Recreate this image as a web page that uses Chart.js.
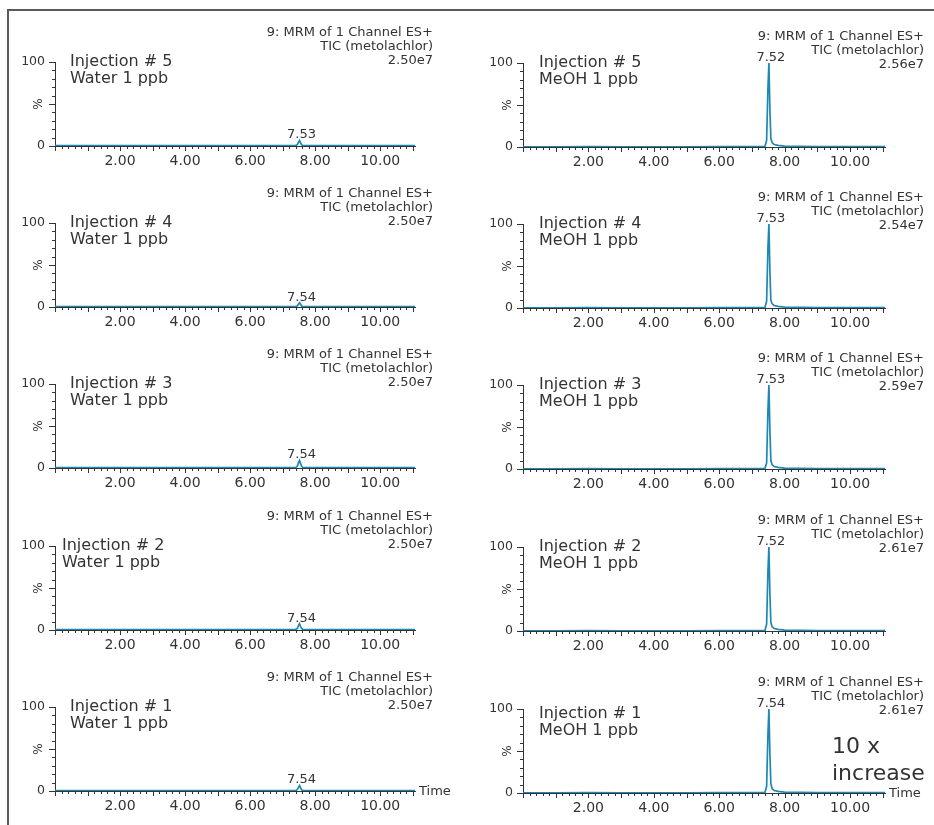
<!DOCTYPE html>
<html>
<head>
<meta charset="utf-8">
<script src="https://cdn.jsdelivr.net/npm/chart.js@4.4.0/dist/chart.umd.min.js"></script>
<style>
  body { margin: 0; background: #fff; width: 934px; height: 825px; overflow: hidden; position: relative; }
  #frame { position: absolute; left: 7px; top: 9px; width: 940px; height: 830px;
           border-top: 2px solid #5a5a5a; border-left: 2px solid #5a5a5a; }
  canvas.panel { position: absolute; }
</style>
</head>
<body>
<div id="frame"></div>
<script>
// Retention time points (min), shared by every trace
const times = [0.00, 1.00, 2.00, 3.00, 4.00, 5.00, 6.00, 7.00, 7.40, 7.45, 7.49, 7.52, 7.55, 7.58, 7.62, 7.68, 7.80, 8.00, 9.00, 10.00, 11.07];

// Water 1 ppb, % of full scale (injection 5 .. 1, top to bottom)
const water5 = [0.4, 0.4, 0.4, 0.4, 0.4, 0.4, 0.4, 0.4, 0.5, 1.5, 4.5, 6.5, 4.0, 1.5, 0.8, 0.5, 0.4, 0.4, 0.4, 0.4, 0.4];
const water4 = [0.4, 0.4, 0.4, 0.4, 0.4, 0.4, 0.4, 0.4, 0.5, 1.2, 3.5, 5.0, 3.2, 1.2, 0.7, 0.5, 0.4, 0.4, 0.4, 0.4, 0.4];
const water3 = [0.4, 0.4, 0.4, 0.4, 0.4, 0.4, 0.4, 0.4, 0.5, 2.0, 6.5, 9.0, 5.5, 2.0, 0.9, 0.5, 0.4, 0.4, 0.4, 0.4, 0.4];
const water2 = [0.4, 0.4, 0.4, 0.4, 0.4, 0.4, 0.4, 0.4, 0.5, 1.8, 5.5, 7.5, 4.5, 1.8, 0.8, 0.5, 0.4, 0.4, 0.4, 0.4, 0.4];
const water1 = [0.4, 0.4, 0.4, 0.4, 0.4, 0.4, 0.4, 0.4, 0.5, 1.5, 4.5, 6.5, 4.0, 1.5, 0.8, 0.5, 0.4, 0.4, 0.4, 0.4, 0.4];

// MeOH 1 ppb, % of full scale
const meoh5 = [0.3, 0.3, 0.4, 0.3, 0.3, 0.3, 0.4, 0.5, 0.8, 8, 70, 100, 45, 10, 5, 3, 2, 1, 0.5, 0.4, 0.4];
const meoh4 = [0.3, 0.3, 0.4, 0.3, 0.3, 0.3, 0.4, 0.5, 0.8, 8, 72, 100, 44, 9, 5, 3, 2, 1, 0.5, 0.4, 0.4];
const meoh3 = [0.3, 0.3, 0.4, 0.3, 0.3, 0.3, 0.4, 0.5, 0.8, 7, 70, 100, 46, 10, 5, 3, 2, 1, 0.5, 0.4, 0.4];
const meoh2 = [0.3, 0.3, 0.4, 0.3, 0.3, 0.3, 0.4, 0.5, 0.8, 8, 71, 100, 45, 10, 5, 3, 2, 1, 0.5, 0.4, 0.4];
const meoh1 = [0.3, 0.3, 0.4, 0.3, 0.3, 0.3, 0.4, 0.5, 0.8, 8, 70, 100, 47, 11, 5, 3, 2, 1, 0.5, 0.4, 0.4];

const waterSeries = [water5, water4, water3, water2, water1];
const meohSeries = [meoh5, meoh4, meoh3, meoh2, meoh1];

const injections = ['Injection # 5', 'Injection # 4', 'Injection # 3', 'Injection # 2', 'Injection # 1'];
const waterPeaks = ['7.53', '7.54', '7.54', '7.54', '7.54'];
const meohPeaks = ['7.52', '7.53', '7.53', '7.52', '7.54'];
const waterScale = ['2.50e7', '2.50e7', '2.50e7', '2.50e7', '2.50e7'];
const meohScale = ['2.56e7', '2.54e7', '2.59e7', '2.61e7', '2.61e7'];
const xLabels = [2, 4, 6, 8, 10];

const FONT = '"DejaVu Sans", Verdana, sans-serif';
const INK = '#333';
const TRACE = '#1e88b4';

// zero line (page y) for each row
const zeroLeft = [146, 307, 468, 630, 791];
const zeroRight = [147, 308, 469, 631, 793];

// ticks, header, labels drawn with the chart's own scales
const decor = {
    id: 'decor',
    afterDatasetsDraw(chart) {
        const o = chart.options.plugins.decor;
        const ctx = chart.ctx;
        const xs = chart.scales.x, ys = chart.scales.y;
        const a = chart.chartArea;
        ctx.save();
        ctx.strokeStyle = INK;
        ctx.lineWidth = 1;
        ctx.beginPath();
        for (let i = 0; i * 0.2 <= xs.max; i++) {
            const px = Math.round(xs.getPixelForValue(i * 0.2)) + 0.5;
            const len = i % 5 === 0 ? 5 : 3;
            ctx.moveTo(px, a.bottom);
            ctx.lineTo(px, a.bottom + len);
        }
        for (let v = 0; v <= 100; v += 10) {
            const py = Math.round(ys.getPixelForValue(v)) + 0.5;
            const len = v % 50 === 0 ? 6 : 3;
            ctx.moveTo(a.left, py);
            ctx.lineTo(a.left - len, py);
        }
        ctx.stroke();

        ctx.fillStyle = INK;
        // % axis mark
        ctx.save();
        ctx.translate(o.pctX, ys.getPixelForValue(50));
        ctx.rotate(-Math.PI / 2);
        ctx.font = '12px ' + FONT;
        ctx.textAlign = 'center';
        ctx.textBaseline = 'middle';
        ctx.fillText('%', 0, 0);
        ctx.restore();

        // peak label above apex
        const data = chart.data.datasets[0].data;
        let k = 0;
        data.forEach((d, i) => { if (d.y > data[k].y) k = i; });
        ctx.font = '13px ' + FONT;
        ctx.textAlign = 'center';
        ctx.textBaseline = 'bottom';
        ctx.fillText(o.peak, xs.getPixelForValue(data[k].x) + 2, ys.getPixelForValue(data[k].y) + 1);

        // header (right aligned)
        ctx.textAlign = 'right';
        ctx.textBaseline = 'middle';
        ctx.fillText('9: MRM of 1 Channel ES+', o.headX, o.headY);
        ctx.fillText('TIC (metolachlor)', o.headX, o.headY + 14);
        ctx.fillText(o.scale, o.headX, o.headY + 28);

        // sample text
        ctx.font = '16px ' + FONT;
        ctx.textAlign = 'left';
        ctx.textBaseline = 'alphabetic';
        ctx.fillText(o.inj, o.injX, o.injY);
        ctx.fillText(o.sample, o.injX, o.injY + 17);

        if (o.last) {
            ctx.font = '13px ' + FONT;
            ctx.textBaseline = 'middle';
            ctx.fillText('Time', a.right + 4, a.bottom + 1);
            if (o.increase) {
                ctx.font = '22px ' + FONT;
                ctx.textBaseline = 'alphabetic';
                ctx.fillText('10 x', 365, 110);
                ctx.fillText('increase', 365, 137);
            }
        }
        ctx.restore();
    }
};

function makePanel(col, row) {
    const isLeft = col === 0;
    const cv = document.createElement('canvas');
    cv.className = 'panel';
    cv.width = 467;
    cv.height = 178;
    const zero = isLeft ? zeroLeft[row] : zeroRight[row];
    cv.style.left = (isLeft ? 0 : 467) + 'px';
    cv.style.top = (zero - 150) + 'px';
    document.body.appendChild(cv);

    const series = isLeft ? waterSeries[row] : meohSeries[row];
    const pts = times.map((t, i) => ({ x: t, y: series[i] }));

    new Chart(cv, {
        type: 'line',
        data: {
            datasets: [{
                data: pts,
                borderColor: TRACE,
                borderWidth: 1.7,
                pointRadius: 0,
                tension: 0,
                fill: false
            }]
        },
        plugins: [decor],
        options: {
            responsive: false,
            animation: false,
            layout: { padding: { top: 66, left: 0, bottom: 0, right: isLeft ? 52 : 49 } },
            plugins: {
                legend: { display: false },
                tooltip: { enabled: false },
                decor: {
                    pctX: isLeft ? 39 : 41,
                    peak: isLeft ? waterPeaks[row] : meohPeaks[row],
                    scale: isLeft ? waterScale[row] : meohScale[row],
                    headX: isLeft ? 433 : 457,
                    headY: isLeft ? 37 : 40,
                    inj: injections[row],
                    sample: isLeft ? 'Water 1 ppb' : 'MeOH 1 ppb',
                    injX: isLeft ? (row === 3 ? 62 : 70) : 72,
                    injY: 70 + (!isLeft && row === 4 ? 5 : 0),
                    last: row === 4,
                    increase: !isLeft && row === 4
                }
            },
            scales: {
                x: {
                    type: 'linear',
                    min: 0,
                    max: 11.07,
                    afterFit: s => { s.height = 28; },
                    grid: { display: false, drawTicks: false },
                    border: { display: true, color: INK, width: 1 },
                    ticks: {
                        stepSize: 2,
                        includeBounds: false,
                        autoSkip: false,
                        maxRotation: 0,
                        padding: 7,
                        color: INK,
                        font: { family: FONT, size: 14 },
                        callback: v => xLabels.includes(v) ? v.toFixed(2) : ''
                    }
                },
                y: {
                    min: 0,
                    max: 100,
                    afterFit: s => { s.width = isLeft ? 55 : 56; },
                    grid: { display: false, drawTicks: false },
                    border: { display: true, color: INK, width: 1 },
                    ticks: {
                        stepSize: 50,
                        padding: 10,
                        color: INK,
                        font: { family: FONT, size: 12.5 },
                        callback: v => v === 50 ? '' : v
                    }
                }
            }
        }
    });
}

for (let r = 0; r < 5; r++) {
    makePanel(0, r);
    makePanel(1, r);
}
</script>
</body>
</html>
